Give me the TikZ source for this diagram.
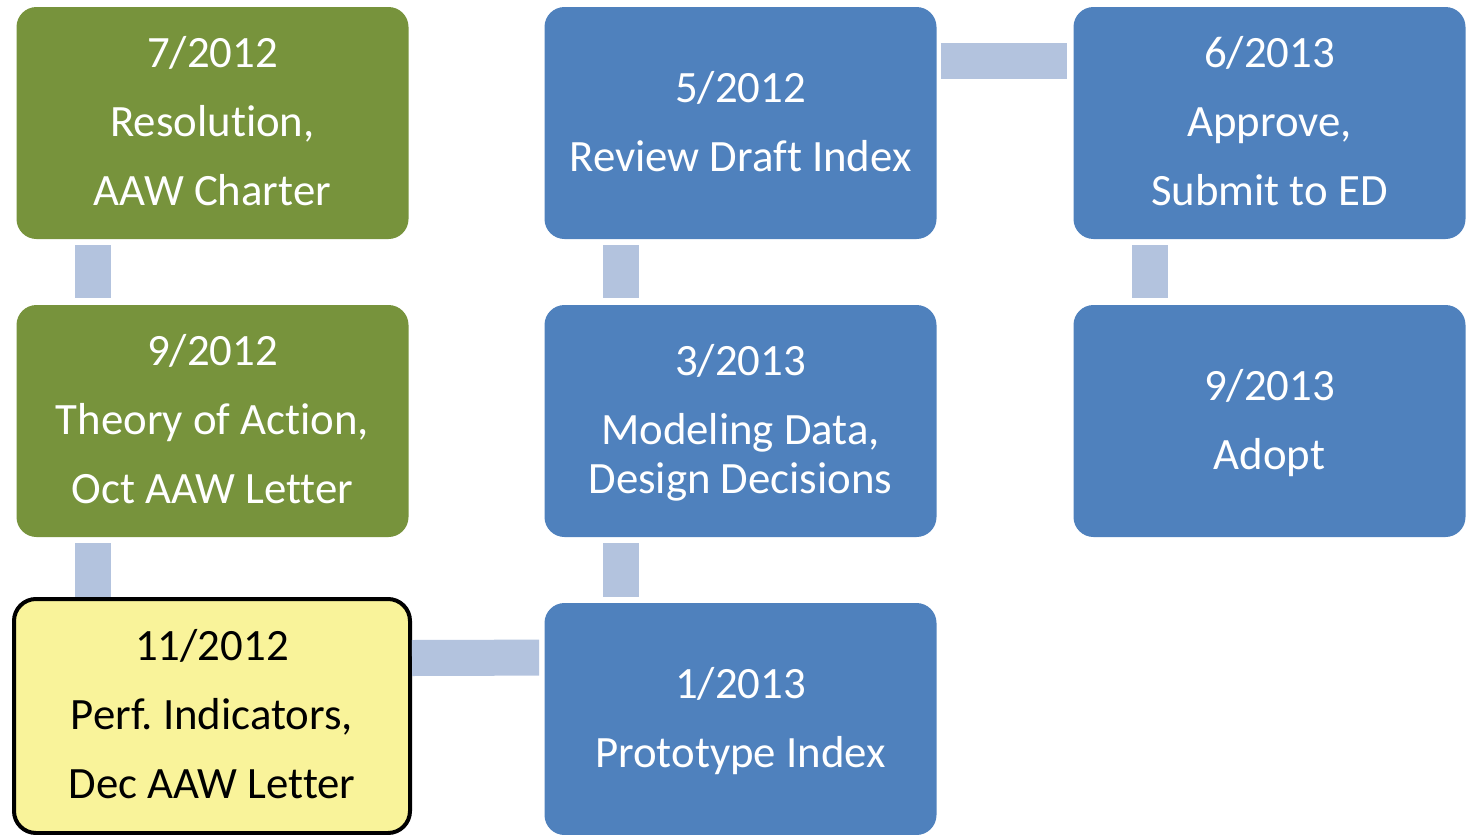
\documentclass[tikz,border=0pt]{standalone}
\usepackage{fontspec}
\setmainfont{Carlito}[Ligatures=NoCommon]
\usepackage{tikz}

\definecolor{stepgreen}{RGB}{119,147,60}
\definecolor{stepblue}{RGB}{79,129,189}
\definecolor{linkblue}{RGB}{179,195,222}
\definecolor{nowyellow}{RGB}{249,243,154}

\frenchspacing

\begin{document}
\begin{tikzpicture}[x=0.5pt,y=-0.5pt,
    box/.style={rectangle, rounded corners=10pt, minimum width=196pt, minimum height=116pt,
        inner sep=0pt, align=center, text=white, font=\fontsize{22.4}{34.5}\selectfont},
    greenbox/.style={box, fill=stepgreen},
    bluebox/.style={box, fill=stepblue},
    nowbox/.style={box, fill=nowyellow, draw=black, line width=2pt, text=black,
        minimum width=198pt, minimum height=117pt, rounded corners=11pt},
    link/.style={draw=linkblue, line width=18pt}]

\useasboundingbox (0,0) rectangle (1472,835);

\node [greenbox] (res)   at (212.5,123) {\strut 7/2012\\\strut Resolution,\\\strut AAW Charter};
\node [greenbox] (thy)   at (212.5,421) {\strut 9/2012\\\strut Theory of Action,\\\strut Oct AAW Letter};
\node [nowbox]   (perf)  at (212,716)   {\strut 11/2012\\\strut Perf. Indicators,\\\strut Dec AAW Letter};

\node [bluebox]  (rev)   at (740.5,123) {\strut 5/2012\\\strut Review Draft Index};
\node [bluebox]  (model) at (740.5,421) {\strut 3/2013\\\strut Modeling Data,\\[-10pt]\strut Design Decisions};
\node [bluebox]  (proto) at (740.5,719) {\strut 1/2013\\\strut Prototype Index};

\node [bluebox]  (appr)  at (1269.5,123) {\strut 6/2013\\\strut Approve,\\\strut Submit to ED};
\node [bluebox]  (adopt) at (1269.5,421) {\strut 9/2013\\\strut Adopt};

% vertical links
\foreach \a/\b in {res/thy, rev/model, appr/adopt}
    \draw [link] ([xshift=38.5pt,yshift=-3pt]\a.south west) -- ([xshift=38.5pt,yshift=3.5pt]\b.north west);

\coordinate (thylink) at ([xshift=38.5pt,yshift=-3pt]thy.south west);
\draw [link] (thylink) -- (thylink |- perf.north);
\draw [link] ([xshift=38.5pt,yshift=-3pt]model.south west) -- ([xshift=38.5pt,yshift=3pt]proto.north west);

% horizontal links
\draw [link] ([yshift=-30.5pt]perf.north east) -- ([xshift=-2.5pt,yshift=-27.5pt]proto.north west);
\draw [link] ([xshift=2pt,yshift=-27.25pt]rev.north east) -- ([xshift=-3pt,yshift=-27.25pt]appr.north west);

\end{tikzpicture}
\end{document}
